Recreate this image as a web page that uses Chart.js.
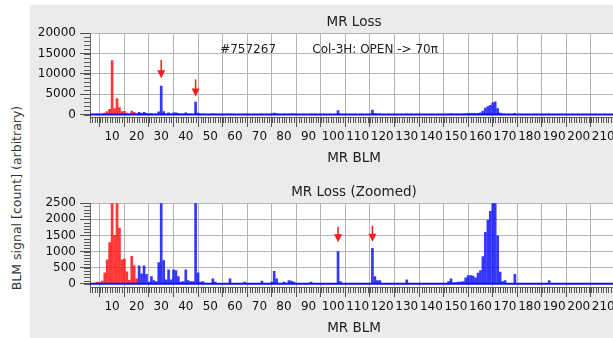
<!DOCTYPE html>
<html>
<head>
<meta charset="utf-8">
<script src="https://cdn.jsdelivr.net/npm/chart.js@4.4.1/dist/chart.umd.min.js"></script>
<style>
body { margin: 0; width: 613px; height: 338px; overflow: hidden; background: #fff; position: relative; font-family: "DejaVu Sans", sans-serif; }
#panel { position: absolute; left: 30px; top: 5px; width: 600px; height: 333px; background: #ebebeb; }
canvas { position: absolute; left: 30px; }
#lossTop { top: 5px; }
#lossZoom { top: 175px; }
#ytitle { position: absolute; left: 16px; top: 198px; transform: translate(-50%, -50%) rotate(-90deg); white-space: nowrap; font-size: 12.5px; color: #333; }
</style>
</head>
<body>
<div id="panel"></div>
<div id="ytitle">BLM signal [count] (arbitrary)</div>
<canvas id="lossTop" width="600" height="165"></canvas>
<canvas id="lossZoom" width="600" height="165"></canvas>
<script>
// MR BLM number and loss signal
var blmIds = [3, 4, 5, 6, 7, 8, 9, 10, 11, 12, 13, 14, 15, 16, 17, 18, 19, 20,
  21, 22, 23, 24, 25, 26, 27, 28, 29, 30, 31, 32, 33, 34, 35, 36, 37, 38, 39, 40,
  41, 42, 43, 44, 45, 46, 47, 51, 52, 58, 64, 71, 75, 76, 77, 80, 82, 83, 84, 91,
  102, 103, 116, 117, 118, 119, 130, 147, 148, 149, 150, 151, 152, 153, 154, 155,
  156, 157, 158, 159, 160, 161, 162, 163, 164, 165, 166, 167, 168, 169, 170, 174, 188];
var lossCounts = [30, 50, 40, 80, 340, 740, 1280, 13300, 1500, 3950, 1730, 740, 770, 370, 110, 850, 560, 150,
  560, 310, 555, 290, 50, 226, 100, 70, 660, 7000, 720, 120, 430, 120, 430, 410, 226, 50, 70, 430,
  100, 70, 70, 3050, 340, 50, 70, 150, 50, 155, 50, 80, 50, 390, 155, 50, 100, 80, 50, 50,
  1000, 70, 1100, 226, 100, 100, 120, 70, 150, 30, 40, 50, 50, 70, 185, 257,
  257, 237, 185, 330, 410, 845, 1595, 1975, 2245, 2900, 3100, 1490, 360, 70, 100, 290, 100];
var redLastBlm = 20;

var xTickLabels = [10, 20, 30, 40, 50, 60, 70, 80, 90, 100, 110, 120, 130, 140, 150, 160, 170, 180, 190, 200, 210];
var yTicksTop = [0, 5000, 10000, 15000, 20000];
var yTicksZoom = [0, 500, 1000, 1500, 2000, 2500];

// arrows: [blm, tail value, tip value]
var arrowsTop = [[30, 13400, 8950], [44, 8650, 4450]];
var arrowsZoom = [[102, 1770, 1285], [116, 1800, 1305]];
var notesTop = ["#757267", "Col-3H: OPEN -> 70\u03c0"];

Chart.defaults.font.family = "'DejaVu Sans', sans-serif";
Chart.defaults.font.size = 12;
Chart.defaults.color = "#111";

var points = [];
for (var i = 0; i < blmIds.length; i++) {
  points.push({x: blmIds[i], y: lossCounts[i]});
}

var extras = {
  id: "extras",
  beforeDraw: function(chart) {
    var a = chart.chartArea;
    chart.ctx.save();
    chart.ctx.fillStyle = "#fff";
    chart.ctx.fillRect(a.left, a.top, a.right - a.left, a.bottom - a.top);
    chart.ctx.restore();
  },
  afterDatasetsDraw: function(chart, args, opts) {
    var c = chart.ctx;
    var xs = chart.scales.x, ys = chart.scales.y, a = chart.chartArea;
    c.save();
    // baseline
    c.strokeStyle = "#1010ff";
    c.lineWidth = 2;
    var y0 = ys.getPixelForValue(0);
    c.beginPath(); c.moveTo(a.left, y0); c.lineTo(a.right, y0); c.stroke();
    // minor ticks
    c.strokeStyle = "#555";
    c.lineWidth = 1;
    c.beginPath();
    for (var b = 1; b <= xs.max; b++) {
      var px = Math.round(xs.getPixelForValue(b)) + 0.5;
      c.moveTo(px, a.bottom); c.lineTo(px, a.bottom + 6);
    }
    for (var v = 0; v <= ys.max; v += opts.minorStep) {
      var py = Math.round(ys.getPixelForValue(v)) + 0.5;
      c.moveTo(a.left - 6, py); c.lineTo(a.left, py);
    }
    c.stroke();
    // arrows
    c.strokeStyle = "#ff1a1a";
    c.fillStyle = "#ff1a1a";
    c.lineWidth = 1.5;
    opts.arrows.forEach(function(ar) {
      var ax = xs.getPixelForValue(ar[0]);
      var t = ys.getPixelForValue(ar[1]), p = ys.getPixelForValue(ar[2]);
      c.beginPath(); c.moveTo(ax, t); c.lineTo(ax, p - 6); c.stroke();
      c.beginPath(); c.moveTo(ax - 4, p - 8); c.lineTo(ax + 4, p - 8); c.lineTo(ax, p); c.closePath(); c.fill();
    });
    // notes
    if (opts.notes.length) {
      c.fillStyle = "#222";
      c.font = "12px 'DejaVu Sans'";
      c.textBaseline = "middle";
      var ny = ys.getPixelForValue(16000);
      c.fillText(opts.notes[0], xs.getPixelForValue(54), ny);
      c.fillText(opts.notes[1], xs.getPixelForValue(91.5), ny);
    }
    c.restore();
  }
};

function makeChart(id, title, yMin, yMax, yTicks, minorStep, arrows, notes) {
  return new Chart(document.getElementById(id), {
    type: "bar",
    data: {
      datasets: [{
        data: points,
        barThickness: 2,
        backgroundColor: function(ctx) {
          return ctx.raw && ctx.raw.x <= redLastBlm ? "rgba(255,20,20,0.85)" : "rgba(20,20,255,0.85)";
        }
      }]
    },
    options: {
      responsive: false,
      animation: false,
      layout: {padding: {right: 12, bottom: 3}},
      plugins: {
        legend: {display: false},
        tooltip: {enabled: false},
        title: {display: true, text: title, fullSize: false, color: "#222",
          font: {size: 13.5, weight: "normal"}, padding: {top: 9, bottom: 3}},
        extras: {minorStep: minorStep, arrows: arrows, notes: notes}
      },
      scales: {
        x: {
          type: "linear", min: 1, max: 216, offset: false,
          afterBuildTicks: function(axis) { axis.ticks = xTickLabels.map(function(v) { return {value: v}; }); },
          afterFit: function(axis) { axis.height = 50; },
          ticks: {maxRotation: 0, autoSkip: false, padding: 3, color: "#111",
            callback: function(v) { return String(v); }},
          grid: {color: "#b4b4b4", tickColor: "#555", tickLength: 10},
          border: {color: "#666"},
          title: {display: true, text: "MR BLM", color: "#222", font: {size: 13.5}, padding: {top: 0, bottom: 0}}
        },
        y: {
          min: yMin, max: yMax,
          afterBuildTicks: function(axis) { axis.ticks = yTicks.map(function(v) { return {value: v}; }); },
          afterFit: function(axis) { axis.width = 60; },
          ticks: {padding: 4, color: "#111", autoSkip: false,
            callback: function(v) { return String(v); }},
          grid: {color: "#b4b4b4", tickColor: "#555", tickLength: 10},
          border: {color: "#666"}
        }
      }
    },
    plugins: [extras]
  });
}

makeChart("lossTop", "MR Loss", -600, 20000, yTicksTop, 1000, arrowsTop, notesTop);
makeChart("lossZoom", "MR Loss (Zoomed)", -100, 2500, yTicksZoom, 100, arrowsZoom, []);
</script>
</body>
</html>
